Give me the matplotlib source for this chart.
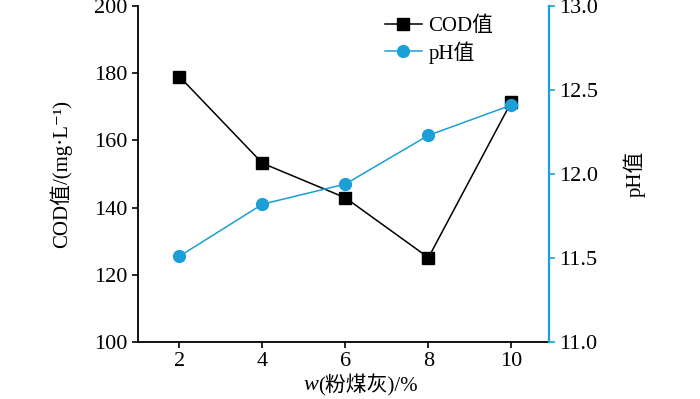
import matplotlib
matplotlib.use("Agg")
import matplotlib.pyplot as plt

# --- データ ---
fly_ash = [2, 4, 6, 8, 10]
cod_vals = [179, 153.2, 142.9, 125.1, 171.5]
ph_vals = [11.51, 11.82, 11.94, 12.23, 12.41]

x_ticks = [2, 4, 6, 8, 10]
cod_ticks = [100, 120, 140, 160, 180, 200]
ph_ticks = [11.0, 11.5, 12.0, 12.5, 13.0]

BLUE = "#1a9fd6"
FONT = ["Liberation Serif", "Noto Sans CJK SC", "DejaVu Sans"]

plt.rcParams["font.family"] = FONT
plt.rcParams["font.size"] = 16

fig = plt.figure(figsize=(7, 3.99), dpi=100)
ax = fig.add_axes([0.197, 0.143, 0.587, 0.842])
ax2 = ax.twinx()

l1, = ax.plot(fly_ash, cod_vals, color="black", lw=1.1, marker="s",
              markersize=8, label="COD值")
l2, = ax2.plot(fly_ash, ph_vals, color=BLUE, lw=1.1, marker="o",
               markersize=8.5, label="pH值")

ax.set_xlim(1, 10.9)
ax.set_ylim(100, 200)
ax2.set_ylim(11.0, 13.0)
ax.set_xticks(x_ticks)
ax.set_yticks(cod_ticks)
ax2.set_yticks(ph_ticks)
ax2.set_yticklabels([f"{v:.1f}" for v in ph_ticks])

for a in (ax, ax2):
    a.spines["top"].set_visible(False)
    a.tick_params(direction="out", length=4, width=1.2, labelsize=16)
ax.spines["right"].set_visible(False)
ax2.spines["left"].set_visible(False)
ax2.spines["bottom"].set_visible(False)
ax.spines["left"].set_linewidth(1.3)
ax.spines["bottom"].set_linewidth(1.3)
ax2.spines["right"].set_color(BLUE)
ax2.spines["right"].set_linewidth(1.6)
ax2.tick_params(axis="y", color=BLUE)

# 軸ラベル（CJK フォールバックのため mathtext は使わない）
ax.set_ylabel("COD值/(mg·L⁻¹)", fontsize=15, labelpad=16)
ax2.set_ylabel("pH值", fontsize=15, labelpad=18)
ax.set_xlabel("(粉煤灰)/%", fontsize=15, labelpad=2)
ax.xaxis.label.set_x(0.56)
ax.annotate("w", xy=(0, 0.5), xycoords=ax.xaxis.label, ha="right",
            va="center", fontsize=16, style="italic",
            family="Liberation Serif")

ax.legend([l1, l2], ["COD值", "pH值"], loc="upper left",
          bbox_to_anchor=(0.555, 1.025), frameon=False, fontsize=15,
          handlelength=1.8, handletextpad=0.3, labelspacing=0.25)

fig.savefig("out.png", dpi=100)
